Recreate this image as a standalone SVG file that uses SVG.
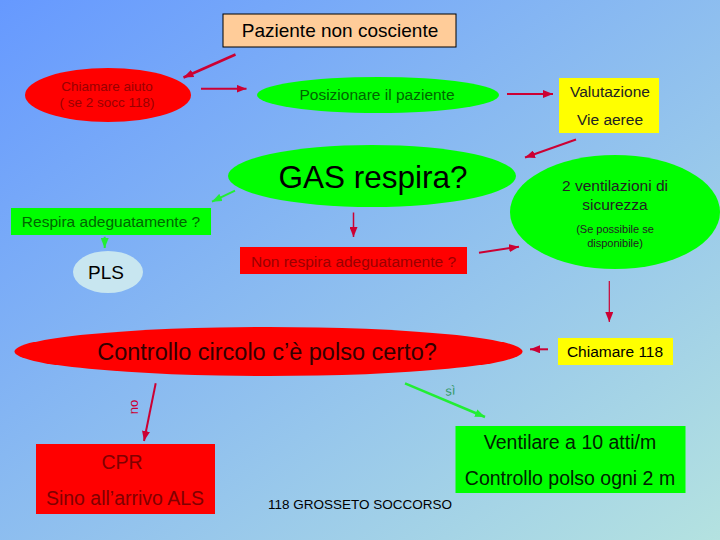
<svg xmlns="http://www.w3.org/2000/svg" width="720" height="540" viewBox="0 0 720 540">
<defs>
<linearGradient id="bg" x1="0" y1="0" x2="1" y2="1">
<stop offset="0" stop-color="#6699FF"/>
<stop offset="1" stop-color="#B4E2E0"/>
</linearGradient>
<marker id="ar" markerUnits="userSpaceOnUse" markerWidth="10" markerHeight="8" refX="10" refY="4" orient="auto">
<path d="M0,0 L10,4 L0,8 z" fill="#CC0033"/>
</marker>
<marker id="ag" markerUnits="userSpaceOnUse" markerWidth="10" markerHeight="8" refX="10" refY="4" orient="auto">
<path d="M0,0 L10,4 L0,8 z" fill="#22EE33"/>
</marker>
<style>
text{font-family:"Liberation Sans",Arial,sans-serif;text-anchor:middle}
.red{fill:#FF0000}
.grn{fill:#00FF00}
.yel{fill:#FFFF00}
.ra{stroke:#CC0033;fill:none;marker-end:url(#ar)}
.ga{stroke:#22EE33;fill:none;marker-end:url(#ag)}
.dr{fill:#990000}
.dg{fill:#006600}
.dk{fill:#222222}
</style>
</defs>
<rect width="720" height="540" fill="url(#bg)"/>

<g id="paziente">
<rect x="223" y="14" width="233" height="33" fill="#FFCC99" stroke="#000" stroke-width="1"/>
<text x="340" y="37" font-size="19" fill="#000">Paziente non cosciente</text>
</g>
<g id="chiamare-aiuto">
<ellipse class="red" cx="108" cy="95" rx="83" ry="27"/>
<text class="dr" x="107" y="91" font-size="13.5">Chiamare aiuto</text>
<text class="dr" x="107" y="107" font-size="13.5">( se 2 socc 118)</text>
</g>
<g id="posizionare">
<ellipse class="grn" cx="378" cy="95" rx="121" ry="18"/>
<text class="dg" x="377" y="100" font-size="15.5">Posizionare il paziente</text>
</g>
<g id="valutazione">
<rect class="yel" x="559" y="78" width="100" height="55"/>
<text class="dk" x="610" y="96.5" font-size="15.5">Valutazione</text>
<text class="dk" x="610" y="125" font-size="15.5">Vie aeree</text>
</g>
<g id="gas">
<ellipse class="grn" cx="372" cy="176" rx="144" ry="31"/>
<text x="373" y="188" font-size="31.5" fill="#000">GAS respira?</text>
</g>
<g id="ventilazioni">
<ellipse class="grn" cx="615" cy="212" rx="105" ry="57"/>
<text class="dk" x="615" y="191" font-size="15.5">2 ventilazioni di</text>
<text class="dk" x="615" y="210" font-size="15.5">sicurezza</text>
<text class="dk" x="615" y="233" font-size="11">(Se possibile se</text>
<text class="dk" x="615" y="246.5" font-size="11">disponibile)</text>
</g>
<g id="respira">
<rect class="grn" x="11" y="208" width="200" height="27"/>
<text class="dg" x="111" y="226.5" font-size="15.5">Respira adeguatamente ?</text>
</g>
<g id="pls">
<ellipse cx="108" cy="272" rx="35" ry="21" fill="#C8E6F0"/>
<text x="106" y="279" font-size="19" fill="#000">PLS</text>
</g>
<g id="non-respira">
<rect class="red" x="240" y="247" width="227" height="27"/>
<text class="dr" x="353.5" y="267" font-size="15.5">Non respira adeguatamente ?</text>
</g>
<g id="chiamare-118">
<rect class="yel" x="558" y="338" width="115" height="27"/>
<text x="615" y="357" font-size="15.5" fill="#000">Chiamare 118</text>
</g>
<g id="controllo">
<ellipse class="red" cx="268.5" cy="351.5" rx="254" ry="24.5"/>
<text x="267" y="360" font-size="23.5" fill="#330000">Controllo circolo c’è polso certo?</text>
</g>
<g id="cpr">
<rect class="red" x="36" y="444" width="179" height="70"/>
<text x="122" y="469" font-size="19.5" fill="#800000">CPR</text>
<text x="125" y="505" font-size="19.5" fill="#800000">Sino all’arrivo ALS</text>
</g>
<g id="ventilare">
<rect class="grn" x="455.5" y="426" width="230" height="67"/>
<text x="570" y="449" font-size="19.5" fill="#002200">Ventilare a 10 atti/m</text>
<text x="570" y="485" font-size="19.5" fill="#002200">Controllo polso ogni 2 m</text>
</g>
<g id="footer">
<text x="360" y="509" font-size="13.5" fill="#000">118 GROSSETO SOCCORSO</text>
</g>

<g id="connectors">
<line class="ra" x1="235.5" y1="54.5" x2="183.5" y2="77.5" stroke-width="2.5"/>
<line class="ra" x1="201" y1="88.7" x2="246.5" y2="88.7" stroke-width="2"/>
<line class="ra" x1="507" y1="94" x2="553" y2="94" stroke-width="2"/>
<line class="ra" x1="576" y1="139.5" x2="525" y2="157.5" stroke-width="2"/>
<line class="ra" x1="353.5" y1="212.5" x2="353.5" y2="237" stroke-width="1.5"/>
<line class="ra" x1="479" y1="252.7" x2="519" y2="246.7" stroke-width="2"/>
<line class="ra" x1="609.3" y1="281" x2="609.3" y2="322" stroke-width="1.2"/>
<line class="ra" x1="548" y1="349.3" x2="530" y2="349.3" stroke-width="2"/>
<line class="ra" x1="155.7" y1="383.3" x2="144" y2="441" stroke-width="2"/>
<line class="ga" x1="235" y1="190.7" x2="212" y2="201.7" stroke-width="2"/>
<line class="ga" x1="104.7" y1="236.7" x2="104.7" y2="248" stroke-width="2"/>
<line class="ga" x1="405" y1="383.3" x2="485" y2="417" stroke-width="2.5"/>
<text x="138" y="407" font-size="13" fill="#CC0033" transform="rotate(-90 138 407)">no</text>
<text x="451" y="395" font-size="13" font-style="italic" fill="#339966" transform="rotate(-10 451 395)">sì</text>
</g>
</svg>
